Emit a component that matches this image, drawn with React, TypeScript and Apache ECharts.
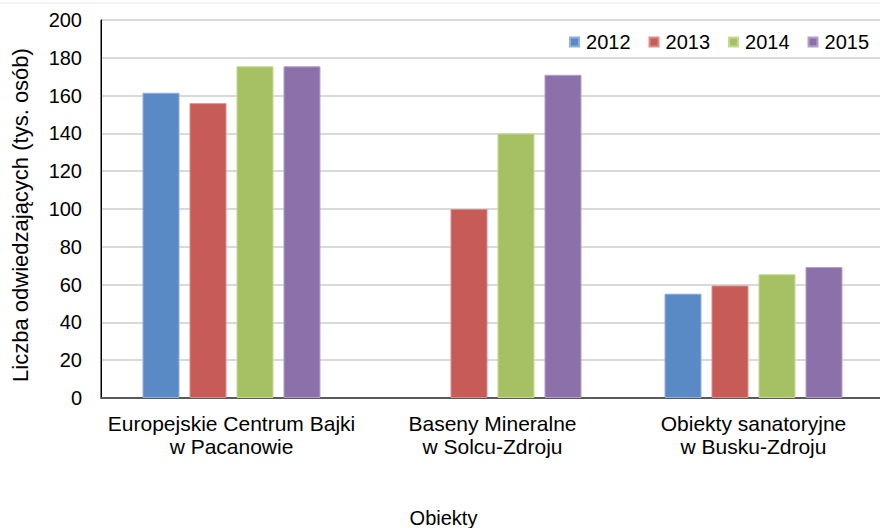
import React, { useEffect, useRef } from "react";
import * as echarts from "echarts";

const categories = [
  "Europejskie Centrum Bajki\nw Pacanowie",
  "Baseny Mineralne\nw Solcu-Zdroju",
  "Obiekty sanatoryjne\nw Busku-Zdroju",
];
const years = ["2012", "2013", "2014", "2015"];
const values2012 = [161.5, null, 55.2];
const values2013 = [156, 100, 59.5];
const values2014 = [175.5, 140, 65.5];
const values2015 = [175.5, 171, 69.3];
const colors = ["#5A8AC6", "#C75B58", "#A5C163", "#8C70AA"];
const borderColors = ["#8FB0DA", "#DC8C89", "#C4DA93", "#B3A0CA"];

export default function App() {
  const ref = useRef<HTMLDivElement>(null);
  useEffect(() => {
    document.body.style.margin = "0";
    const chart = echarts.init(ref.current!, null, { renderer: "svg" });
    const all = [values2012, values2013, values2014, values2015];
    const font = "Liberation Sans, Arial, sans-serif";
    chart.setOption({
      animation: false,
      backgroundColor: "#fff",
      legend: {
        data: years,
        right: 6,
        top: 27,
        icon: "rect",
        itemWidth: 9,
        itemHeight: 9,
        itemGap: 18,
        textStyle: { fontSize: 20, color: "#000", fontFamily: font, padding: [0, 0, 0, 2] },
      },
      grid: {
        left: 101,
        top: 20,
        width: 783,
        height: 378,
        outerBoundsMode: "none",
        containLabel: false,
        show: true,
        borderColor: "#000",
        borderWidth: 1,
      },
      xAxis: {
        type: "category",
        data: categories,
        name: "Obiekty",
        nameLocation: "middle",
        nameGap: 110,
        nameTextStyle: { fontSize: 20, color: "#000", fontFamily: font, padding: [0, 98, 0, 0] },
        axisLine: { lineStyle: { color: "#595959", width: 2 } },
        axisTick: { show: false },
        axisLabel: {
          fontSize: 21,
          color: "#000",
          fontFamily: font,
          margin: 14,
          lineHeight: 23,
          interval: 0,
        },
      },
      yAxis: {
        type: "value",
        min: 0,
        max: 200,
        interval: 20,
        name: "Liczba odwiedzających (tys. osób)",
        nameLocation: "middle",
        nameGap: 70,
        nameTextStyle: { fontSize: 22, color: "#000", fontFamily: font, padding: [0, 12, 0, 0] },
        axisLine: { show: true, lineStyle: { color: "#000", width: 1 } },
        axisTick: { show: false },
        axisLabel: { fontSize: 20, color: "#000", fontFamily: font, margin: 19 },
        splitLine: { lineStyle: { color: "#D9D9D9", width: 2 } },
      },
      series: years.map((y, i) => ({
        name: y,
        type: "bar",
        data: all[i],
        barWidth: 37,
        barGap: "27%",
        itemStyle: { color: colors[i], borderColor: borderColors[i], borderWidth: 1 },
      })),
      graphic: [
        {
          type: "line",
          shape: { x1: 0, y1: 3, x2: 880, y2: 3 },
          style: { stroke: "#E6E6E6", lineWidth: 1 },
          silent: true,
        },
      ],
    });
    return () => chart.dispose();
  }, []);
  return <div ref={ref} style={{ width: 880, height: 528 }} />;
}
